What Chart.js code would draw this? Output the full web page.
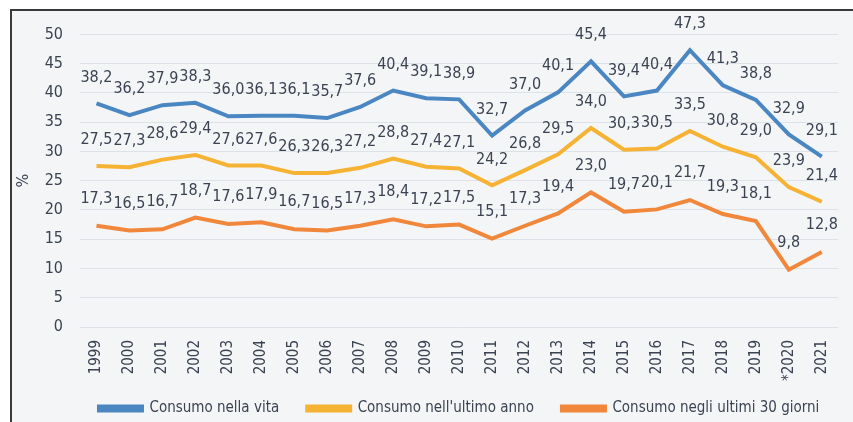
<!DOCTYPE html>
<html><head><meta charset="utf-8">
<script src="https://cdn.jsdelivr.net/npm/chart.js@4.4.1/dist/chart.umd.min.js"></script>
<style>
html,body{margin:0;padding:0;background:#fff;}
#frame{position:absolute;left:10px;top:9px;width:841px;height:411px;border-left:2px solid #3a3a3a;border-top:2px solid #3a3a3a;background:#f4f5f7;}
canvas{display:block;}
</style></head><body>
<div id="frame"><canvas id="c" width="841" height="411"></canvas></div>
<script>
const years = ['1999','2000','2001','2002','2003','2004','2005','2006','2007','2008','2009','2010','2011','2012','2013','2014','2015','2016','2017','2018','2019','*2020','2021'];
const vita = [38.2,36.2,37.9,38.3,36.0,36.1,36.1,35.7,37.6,40.4,39.1,38.9,32.7,37.0,40.1,45.4,39.4,40.4,47.3,41.3,38.8,32.9,29.1];
const anno = [27.5,27.3,28.6,29.4,27.6,27.6,26.3,26.3,27.2,28.8,27.4,27.1,24.2,26.8,29.5,34.0,30.3,30.5,33.5,30.8,29.0,23.9,21.4];
const giorni = [17.3,16.5,16.7,18.7,17.6,17.9,16.7,16.5,17.3,18.4,17.2,17.5,15.1,17.3,19.4,23.0,19.7,20.1,21.7,19.3,18.1,9.8,12.8];
const seriesNames = ['Consumo nella vita',"Consumo nell'ultimo anno",'Consumo negli ultimi 30 giorni'];
const yTicks = [0,5,10,15,20,25,30,35,40,45,50];

const FONT = "'DejaVu Sans Condensed','Liberation Sans',sans-serif";
const TXT = '#3b4352';

const labelPlugin = {
  id: 'valLabels',
  afterLayout(chart) {
    const l = chart.legend;
    if (l) {
      const dx = (chart.chartArea.left + chart.chartArea.right) / 2 - (l.left + l.right) / 2;
      l.left += dx; l.right += dx;
      l.top -= 11; l.bottom -= 11;
    }
  },
  afterDatasetsDraw(chart) {
    const ctx = chart.ctx;
    ctx.save();
    ctx.font = '16px ' + FONT;
    ctx.fillStyle = TXT;
    ctx.textAlign = 'center';
    ctx.textBaseline = 'middle';
    chart.data.datasets.forEach((ds, i) => {
      const meta = chart.getDatasetMeta(i);
      meta.data.forEach((pt, j) => {
        const v = ds.data[j];
        ctx.fillText(v.toFixed(1).replace('.', ','), pt.x, pt.y - (i === 2 ? 27 : 26));
      });
    });
    ctx.restore();
  }
};

new Chart(document.getElementById('c'), {
  type: 'line',
  data: {
    labels: years,
    datasets: [
      {label: seriesNames[0], data: vita, borderColor: '#4a87c2', backgroundColor: '#4a87c2'},
      {label: seriesNames[1], data: anno, borderColor: '#f6b233', backgroundColor: '#f6b233'},
      {label: seriesNames[2], data: giorni, borderColor: '#f0873a', backgroundColor: '#f0873a'}
    ].map(d => Object.assign(d, {borderWidth: 4, pointRadius: 0, tension: 0, fill: false}))
  },
  options: {
    responsive: false,
    animation: false,
    layout: {padding: {left: 0, right: 10, top: 20, bottom: -15}},
    plugins: {
      legend: {
        position: 'bottom',
        labels: {
          boxWidth: 43, boxHeight: 4, padding: 28, color: TXT,
          font: {family: FONT, size: 15}
        }
      },
      tooltip: {enabled: false}
    },
    scales: {
      x: {
        offset: true,
        grid: {display: false, drawTicks: false},
        border: {display: false},
        ticks: {maxRotation: 90, minRotation: 90, autoSkip: false, padding: 13, color: TXT, font: {family: FONT, size: 15}},
        afterFit(s) { s.height = 57; }
      },
      y: {
        min: 0, max: 50,
        afterBuildTicks(s) { s.ticks = yTicks.map(v => ({value: v})); },
        grid: {color: '#dde2e8', lineWidth: 1, drawTicks: false},
        border: {display: false},
        ticks: {autoSkip: false, padding: 17, color: TXT, font: {family: FONT, size: 16, lineHeight: 0.8}},
        title: {display: true, text: '%', color: TXT, font: {family: FONT, size: 16}, padding: {top: 2, bottom: 0}},
        afterFit(s) { s.width = 68; }
      }
    }
  },
  plugins: [labelPlugin]
});
</script>
</body></html>
